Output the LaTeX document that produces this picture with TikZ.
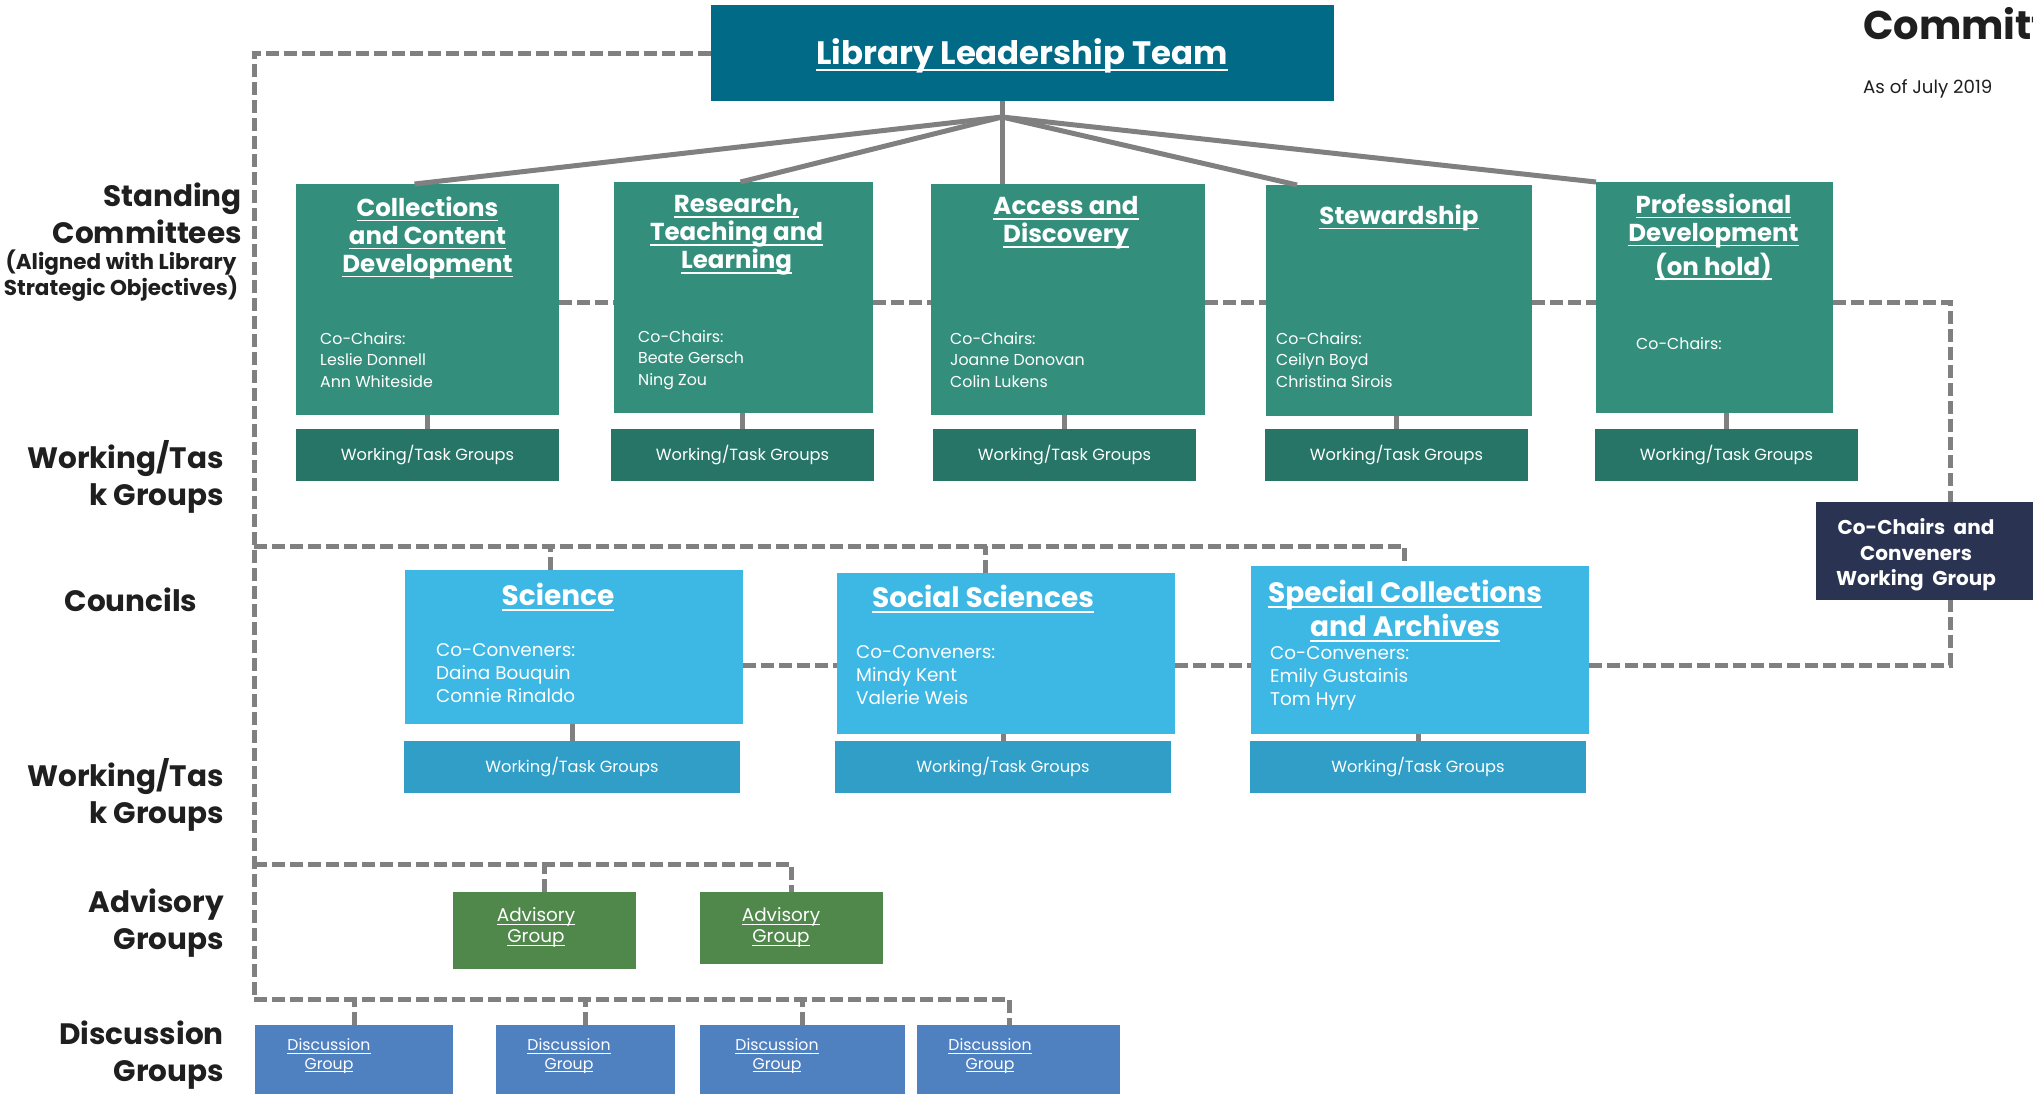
\documentclass[tikz,border=0pt]{standalone}
\usepackage{fontspec}
\setmainfont{Poppins}
\usepackage{xcolor}
\usepackage{tikz}
\usetikzlibrary{positioning}
\newsavebox{\ulbox}
\newcommand{\ulin}[1]{\sbox{\ulbox}{#1}\rlap{\vrule width\wd\ulbox height -0.13em depth 0.20em}\usebox{\ulbox}}
\newcommand{\fs}[2]{\fontsize{#1}{#2}\selectfont}
\definecolor{leadblue}{RGB}{0,106,135}
\definecolor{comgreen}{RGB}{51,143,124}
\definecolor{wtgreen}{RGB}{38,117,103}
\definecolor{counblue}{RGB}{61,183,228}
\definecolor{wtblue}{RGB}{49,158,199}
\definecolor{advgreen}{RGB}{80,135,75}
\definecolor{discblue}{RGB}{79,129,193}
\definecolor{navybox}{RGB}{42,52,82}
\definecolor{linegray}{RGB}{128,128,128}
\tikzset{
    box/.style={rectangle, inner sep=0pt, outer sep=0pt, anchor=north west},
    lead/.style={box, fill=leadblue, minimum width=623pt, minimum height=96pt},
    comm/.style={box, fill=comgreen, minimum height=231pt},
    comwtg/.style={box, fill=wtgreen, minimum width=263pt, minimum height=52pt, text=white, font=\fs{16.2}{19}},
    coun/.style={box, fill=counblue, minimum width=338pt},
    counwtg/.style={box, fill=wtblue, minimum width=336pt, minimum height=52pt, text=white, font=\fs{16.2}{19}},
    adv/.style={box, fill=advgreen, minimum width=183pt},
    disc/.style={box, fill=discblue, minimum height=75pt},
    cochair/.style={box, fill=navybox, minimum width=268pt, minimum height=98pt},
    title/.style={text=white, font=\bfseries\fs{24.5}{28}, align=center, inner sep=0pt},
    ctitle/.style={text=white, font=\bfseries\fs{28}{34}, align=center, inner sep=0pt},
    names/.style={text=white, font=\fs{15.8}{21.5}, align=left, inner sep=0pt, anchor=north west},
    cnames/.style={text=white, font=\fs{18.4}{23}, align=left, inner sep=0pt, anchor=north west},
    small/.style={text=white, align=center, inner sep=0pt},
    level/.style={font=\bfseries\fs{29.5}{37}, align=right, anchor=east, inner sep=0pt, text=black!88},
    link/.style={draw=linegray, line width=5pt},
    dashlink/.style={draw=linegray, line width=5pt, dash pattern=on 13pt off 5pt}
}

\begin{document}
\begin{tikzpicture}[x=1pt, y=-1pt]
    \useasboundingbox (0,0) rectangle (2033,1093);
    \fill[white] (0,0) rectangle (2033,1093);

    % Heading
    \node[anchor=base west, inner sep=0pt, font=\bfseries\fs{40}{44}, text=black!88] (head) at (1863,39) {Committees};
    \node[anchor=base west, inner sep=0pt, font=\fs{18.2}{22}, text=black!88] (date) at (1863,93) {As of July 2019};

    % Leadership
    \node[lead] (lead) at (711,5) {};
    \node[title, font=\bfseries\fs{32.4}{38}] at (1022,56) {\ulin{Library Leadership Team}};

    % Standing committees
    \node[comm, minimum width=263pt] (cd) at (296,184) {};
    \node[comm, minimum width=259pt] (rtl) at (614,182) {};
    \node[comm, minimum width=274pt] (ad) at (931,184) {};
    \node[comm, minimum width=266pt] (st) at (1266,185) {};
    \node[comm, minimum width=237pt] (pd) at (1596,182) {};

    \node[title] at ([shift={(0,54)}]cd.north) {\ulin{Collections}\\\ulin{and Content}\\\ulin{Development}};
    \node[title] at ([shift={(-7,53)}]rtl.north) {\ulin{Research,}\\\ulin{Teaching and}\\\ulin{Learning}};
    \node[title] at ([shift={(-2,39)}]ad.north) {\ulin{Access and}\\\ulin{Discovery}};
    \node[title] at ([shift={(0,33)}]st.north) {\ulin{Stewardship}};
    \node[title] at ([shift={(-1,55)}]pd.north) {\ulin{Professional}\\\ulin{Development}\\[4pt]\ulin{(on hold)}};

    \node[names] at ([shift={(24,148)}]cd.north west) {Co-Chairs:\\Leslie Donnell\\Ann Whiteside};
    \node[names] at ([shift={(24,148)}]rtl.north west) {Co-Chairs:\\Beate Gersch\\Ning Zou};
    \node[names] at ([shift={(19,148)}]ad.north west) {Co-Chairs:\\Joanne Donovan\\Colin Lukens};
    \node[names] at ([shift={(10,147)}]st.north west) {Co-Chairs:\\Ceilyn Boyd\\Christina Sirois};
    \node[names] at ([shift={(40,155)}]pd.north west) {Co-Chairs:};

    \node[comwtg] (w1) at (296,429) {Working/Task Groups};
    \node[comwtg] (w2) at (611,429) {Working/Task Groups};
    \node[comwtg] (w3) at (933,429) {Working/Task Groups};
    \node[comwtg] (w4) at (1265,429) {Working/Task Groups};
    \node[comwtg] (w5) at (1595,429) {Working/Task Groups};

    % Councils
    \node[coun, minimum height=154pt] (sci) at (405,570) {};
    \node[coun, minimum height=161pt] (soc) at (837,573) {};
    \node[coun, minimum height=168pt] (sp) at (1251,566) {};

    \node[ctitle] at ([shift={(-16,27)}]sci.north) {\ulin{Science}};
    \node[ctitle] at ([shift={(-23,26)}]soc.north) {\ulin{Social Sciences}};
    \node[ctitle] at ([shift={(-15,45)}]sp.north) {\ulin{Special Collections}\\\ulin{and Archives}};

    \node[cnames] at ([shift={(31,73)}]sci.north west) {Co-Conveners:\\Daina Bouquin\\Connie Rinaldo};
    \node[cnames] at ([shift={(19,72)}]soc.north west) {Co-Conveners:\\Mindy Kent\\Valerie Weis};
    \node[cnames] at ([shift={(19,80)}]sp.north west) {Co-Conveners:\\Emily Gustainis\\Tom Hyry};

    \node[counwtg] (cw1) at (404,741) {Working/Task Groups};
    \node[counwtg] (cw2) at (835,741) {Working/Task Groups};
    \node[counwtg] (cw3) at (1250,741) {Working/Task Groups};

    % Co-Chairs and Conveners
    \node[cochair] (cc) at (1816,502) {};
    \node[small, font=\bfseries\fs{20}{25.5}] at (1916,555) {Co-Chairs~~and\\Conveners\\Working~~Group};

    % Advisory and discussion groups
    \node[adv, minimum height=77pt] (adv1) at (453,892) {};
    \node[adv, minimum height=72pt] (adv2) at (700,892) {};
    \node[small, font=\fs{18.4}{21}] at (536,927) {\ulin{Advisory}\\\ulin{Group}};
    \node[small, font=\fs{18.4}{21}] at (781,927) {\ulin{Advisory}\\\ulin{Group}};

    \node[disc, minimum width=198pt] (d1) at (255,1025) {};
    \node[disc, minimum width=179pt] (d2) at (496,1025) {};
    \node[disc, minimum width=205pt] (d3) at (700,1025) {};
    \node[disc, minimum width=203pt] (d4) at (917,1025) {};
    \foreach \x in {329,569,777,990} {
        \node[small, font=\fs{15.7}{18.5}] at (\x,1056) {\ulin{Discussion}\\\ulin{Group}};
    }

    % Row labels
    \node[level] (l1) at (242,213) {Standing\\Committees};
    \node[font=\bfseries\fs{21.5}{26}, align=center, inner sep=0pt, text=black!88] (l1b) at (121,276) {(Aligned with Library\\Strategic Objectives)};
    \node[level] (l2) at (224,477) {Working/Tas\\k Groups};
    \node[font=\bfseries\fs{29.5}{37}, inner sep=0pt, text=black!88] (l3) at (131,600) {Councils};
    \node[level] (l4) at (224,795) {Working/Tas\\k Groups};
    \node[level] (l5) at (224,923) {Advisory\\Groups};
    \node[level] (l6) at (224,1055) {Discussion\\Groups};

    % Solid connectors
    \coordinate (apex) at (1002,117);
    \draw[link] (apex |- lead.south) -- (apex |- ad.north);
    \draw[link] (apex) -- ([xshift=-13pt]cd.north);
    \draw[link] (apex) -- ([xshift=-3pt]rtl.north);
    \draw[link] (apex) -- ([xshift=31pt]st.north west);
    \draw[link] (apex) -- (pd.north west);
    \foreach \c/\w in {cd/w1, rtl/w2, ad/w3, st/w4, pd/w5, sci/cw1, soc/cw2, sp/cw3} {
        \draw[link] (\w.north) -- (\w.north |- \c.south);
    }

    % Dashed connectors
    \coordinate (spinetop) at (254,53);
    \coordinate (spinebot) at (254,999);
    \coordinate (srow) at (254,302);
    \coordinate (crow) at (254,546);
    \coordinate (crow2) at (254,665);
    \coordinate (arow) at (254,864);
    \draw[dashlink] (lead.west) -- (spinetop) -- (spinebot);
    \draw[dashlink] (cd.east |- srow) -- (rtl.west |- srow);
    \draw[dashlink] (rtl.east |- srow) -- (ad.west |- srow);
    \draw[dashlink] (ad.east |- srow) -- (st.west |- srow);
    \draw[dashlink] (st.east |- srow) -- (pd.west |- srow);
    \draw[dashlink] (pd.east |- srow) -| (cc.north);
    \draw[dashlink] (crow) -| ([xshift=-16pt]sp.north);
    \draw[dashlink] ([xshift=-24pt]sci.north) -- ([xshift=-24pt]sci.north |- crow);
    \draw[dashlink] ([xshift=-21pt]soc.north) -- ([xshift=-21pt]soc.north |- crow);
    \draw[dashlink] (sci.east |- crow2) -- (soc.west |- crow2);
    \draw[dashlink] (soc.east |- crow2) -- (sp.west |- crow2);
    \draw[dashlink] (sp.east |- crow2) -| (cc.south);
    \draw[dashlink] (arow) -| (adv2.north);
    \draw[dashlink] (adv1.north) -- (adv1.north |- arow);
    \draw[dashlink] (spinebot) -| ([xshift=-9pt]d4.north);
    \foreach \d in {d1,d2,d3} {
        \draw[dashlink] (\d.north) -- (\d.north |- spinebot);
    }
\end{tikzpicture}
\end{document}
